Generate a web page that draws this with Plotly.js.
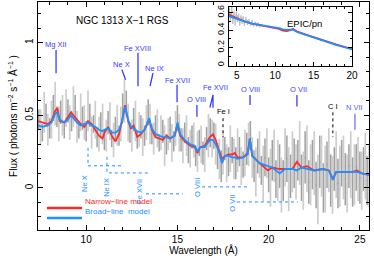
<!DOCTYPE html>
<html><head><meta charset="utf-8">
<script src="https://cdn.plot.ly/plotly-3.0.1.min.js"></script>
<style>html,body{margin:0;padding:0;background:#fff}#chart{width:374px;height:256px}</style>
</head><body><div id="chart"></div>
<script>
// ---- RGS data (dark grey, RGS-a) ----
const darkX = [7.4,7.6,7.8,8.0,8.2,8.4,8.6,8.8,9.0,9.2,9.4,9.6,9.8,10.0,10.2,10.4,10.6,10.8,11.0,11.2,11.4,11.6,11.8,12.0,12.2,12.4,12.6,12.8,13.0,13.2,13.4,13.6,13.8,14.0,14.2,14.4,14.6,14.8,15.0,15.2,15.4,15.6,15.8,16.0,16.2,16.4,16.6,16.8,17.0,17.2,17.4,17.6,17.8,18.0,18.2,18.4,18.6,18.8,19.0,19.2,19.4,19.6,19.8,20.0,20.2,20.4,20.6,20.8,21.0,21.2,21.4,21.6,21.8,22.0,22.2,22.4,22.6,22.8,23.0,23.2,23.4,23.6,23.8,24.0,24.2,24.4,24.6,24.8,25.0,25.2,25.4];
const darkY = [0.47,0.38,0.50,0.41,0.55,0.49,0.52,0.40,0.53,0.46,0.55,0.40,0.48,0.39,0.50,0.44,0.35,0.43,0.33,0.45,0.34,0.41,0.36,0.55,0.58,0.38,0.47,0.33,0.42,0.36,0.52,0.37,0.42,0.31,0.39,0.30,0.40,0.32,0.48,0.33,0.38,0.26,0.35,0.22,0.31,0.24,0.34,0.38,0.36,0.22,0.15,0.27,0.18,0.26,0.17,0.25,0.16,0.27,0.36,0.15,0.22,0.12,0.21,0.09,0.19,0.06,0.15,0.05,0.20,0.08,0.17,0.19,0.07,0.21,0.04,0.16,0.02,0.18,0.00,0.16,0.05,0.13,0.03,0.17,0.06,0.15,0.04,0.14,0.07,0.13,0.05];
const darkErr = [0.07,0.06,0.08,0.07,0.09,0.07,0.08,0.06,0.08,0.07,0.09,0.06,0.08,0.07,0.08,0.06,0.07,0.09,0.07,0.08,0.06,0.08,0.07,0.10,0.09,0.07,0.08,0.06,0.08,0.07,0.09,0.07,0.08,0.06,0.08,0.07,0.09,0.07,0.09,0.08,0.07,0.09,0.08,0.07,0.09,0.08,0.08,0.10,0.09,0.09,0.11,0.08,0.10,0.09,0.11,0.10,0.09,0.11,0.10,0.11,0.12,0.10,0.13,0.12,0.14,0.13,0.15,0.14,0.16,0.15,0.17,0.14,0.16,0.18,0.15,0.17,0.16,0.18,0.17,0.16,0.18,0.15,0.17,0.16,0.18,0.15,0.17,0.16,0.18,0.15,0.17];
// ---- RGS data (light grey, RGS-b) ----
const lightX = [7.5,7.7,7.9,8.1,8.3,8.5,8.7,8.9,9.1,9.3,9.5,9.7,9.9,10.1,10.3,10.5,10.7,10.9,11.1,11.3,11.5,11.7,11.9,12.1,12.3,12.5,12.7,12.9,13.1,13.3,13.5,13.7,13.9,14.1,14.3,14.5,14.7,14.9,15.1,15.3,15.5,15.7,15.9,16.1,16.3,16.5,16.7,16.9,17.1,17.3,17.5,17.7,17.9,18.1,18.3,18.5,18.7,18.9,19.1,19.3,19.5,19.7,19.9,20.1,20.3,20.5,20.7,20.9,21.1,21.3,21.5,21.7,21.9,22.1,22.3,22.5,22.7,22.9,23.1,23.3,23.5,23.7,23.9,24.1,24.3,24.5,24.7,24.9,25.1,25.3,25.5];
const lightY = [0.42,0.52,0.40,0.47,0.58,0.44,0.50,0.55,0.45,0.56,0.42,0.52,0.45,0.53,0.38,0.47,0.37,0.44,0.36,0.46,0.33,0.43,0.44,0.60,0.45,0.36,0.46,0.40,0.35,0.45,0.44,0.34,0.41,0.38,0.29,0.37,0.31,0.41,0.38,0.29,0.36,0.27,0.33,0.25,0.30,0.23,0.36,0.34,0.30,0.20,0.24,0.17,0.27,0.20,0.26,0.15,0.24,0.30,0.21,0.11,0.23,0.10,0.24,0.07,0.22,0.12,0.02,0.21,0.06,0.18,0.11,0.24,0.05,0.20,0.09,0.17,-0.01,0.15,0.06,0.19,0.02,0.16,0.08,0.14,0.03,0.16,0.09,0.13,0.05,0.15,0.08];
const lightErr = [0.12,0.14,0.11,0.13,0.15,0.12,0.14,0.13,0.12,0.14,0.11,0.13,0.12,0.14,0.11,0.13,0.12,0.14,0.11,0.13,0.12,0.14,0.12,0.15,0.13,0.11,0.14,0.12,0.13,0.12,0.14,0.11,0.13,0.12,0.14,0.11,0.13,0.12,0.13,0.12,0.14,0.13,0.12,0.14,0.13,0.12,0.15,0.13,0.14,0.14,0.15,0.13,0.16,0.14,0.15,0.13,0.16,0.15,0.14,0.17,0.16,0.19,0.17,0.20,0.18,0.21,0.19,0.20,0.22,0.21,0.19,0.22,0.20,0.23,0.21,0.22,0.24,0.21,0.23,0.22,0.20,0.23,0.21,0.22,0.20,0.23,0.21,0.22,0.20,0.23,0.21];
// ---- models ----
const modelX = [7.36,7.6,7.9,8.1,8.3,8.42,8.55,8.8,9.0,9.17,9.3,9.5,9.7,9.9,10.1,10.3,10.5,10.7,10.9,11.0,11.2,11.4,11.6,11.8,11.95,12.13,12.3,12.45,12.6,12.8,13.0,13.2,13.45,13.6,13.8,14.0,14.2,14.4,14.6,14.85,15.01,15.15,15.4,15.7,15.95,16.1,16.25,16.5,16.78,16.95,17.1,17.25,17.44,17.6,17.8,18.0,18.15,18.3,18.6,18.85,18.97,19.1,19.5,19.96,20.2,20.6,20.9,21.3,21.55,21.8,22.1,22.5,22.98,23.3,23.52,23.7,24.2,24.6,24.84,25.1,25.5];
const broadY = [0.43,0.42,0.43,0.45,0.51,0.52,0.47,0.45,0.47,0.50,0.48,0.45,0.43,0.44,0.45,0.43,0.42,0.40,0.39,0.40,0.41,0.38,0.38,0.40,0.45,0.56,0.47,0.42,0.41,0.39,0.38,0.40,0.48,0.41,0.37,0.36,0.35,0.35,0.34,0.36,0.45,0.37,0.33,0.30,0.29,0.25,0.28,0.28,0.33,0.33,0.30,0.26,0.17,0.22,0.22,0.21,0.21,0.20,0.21,0.23,0.34,0.22,0.17,0.15,0.14,0.10,0.13,0.13,0.12,0.14,0.13,0.12,0.13,0.12,0.055,0.11,0.11,0.11,0.11,0.10,0.09];
const narrowY = [0.46,0.45,0.44,0.46,0.53,0.55,0.46,0.45,0.49,0.52,0.50,0.47,0.44,0.42,0.46,0.44,0.40,0.36,0.34,0.38,0.42,0.36,0.32,0.37,0.45,0.57,0.46,0.41,0.43,0.35,0.37,0.40,0.47,0.40,0.35,0.34,0.33,0.36,0.34,0.36,0.44,0.36,0.32,0.29,0.28,0.24,0.28,0.29,0.35,0.37,0.33,0.27,0.20,0.22,0.23,0.23,0.24,0.21,0.21,0.24,0.34,0.22,0.17,0.12,0.14,0.13,0.13,0.13,0.18,0.14,0.15,0.12,0.13,0.12,0.06,0.11,0.11,0.11,0.12,0.10,0.09];
// ---- EPIC/pn inset ----
const pnX = [4.05,4.2,4.35,4.5,4.65,4.8,4.95,5.1,5.25,5.4,5.55,5.7,5.85,6.0,6.2,6.4,6.6,6.8,7.0,7.2,7.4,7.6,7.8,8.0];
const pnY = [0.60,0.55,0.62,0.52,0.58,0.50,0.57,0.53,0.55,0.49,0.54,0.51,0.53,0.48,0.52,0.49,0.50,0.47,0.49,0.46,0.48,0.46,0.47,0.45];
const pnErr = [0.06,0.05,0.05,0.05,0.04,0.05,0.04,0.04,0.04,0.04,0.03,0.04,0.03,0.03,0.03,0.03,0.03,0.02,0.03,0.02,0.02,0.02,0.02,0.02];
const pnModelX = [4.0,4.5,5,5.5,6,7,8,9,10,10.5,11,11.5,12,12.3,12.6,13,14,15,16,17,18,19,20];
const pnNarrow = [0.58,0.56,0.535,0.515,0.50,0.475,0.46,0.445,0.43,0.415,0.395,0.39,0.40,0.415,0.40,0.38,0.35,0.32,0.29,0.26,0.235,0.21,0.185];
const pnBroad = [0.56,0.545,0.525,0.51,0.50,0.475,0.46,0.45,0.435,0.425,0.41,0.405,0.405,0.41,0.39,0.375,0.345,0.315,0.285,0.255,0.23,0.205,0.18];
// ---- line identifications ----
const idText = ['Mg XII','Ne X','Fe XVIII','Ne IX','Fe XVII','O VIII','Fe XVII','O VIII','O VII','N VII'];
const idTextX = [8.35,11.96,12.84,13.72,15.03,16.07,17.06,19.03,21.61,24.73];
const idTextY = [0.986,0.848,0.959,0.821,0.738,0.607,0.69,0.676,0.676,0.552];
const idSegs = [[[8.35,0.95],[8.35,0.79]],[[11.96,0.814],[12.16,0.745]],[[12.84,0.93],[12.84,0.70]],[[13.66,0.79],[13.50,0.70]],[[14.98,0.71],[14.98,0.59]],[[16.07,0.57],[16.07,0.49]],[[16.78,0.552],[16.95,0.641],[16.95,0.552]],[[18.98,0.64],[18.98,0.57]],[[21.55,0.64],[21.55,0.56]],[[24.73,0.51],[24.73,0.40]]];
const neutText = ['Fe I','C I'];
const neutX = [17.55,23.55];
const neutTextY = [0.524,0.559];
const neutSegs = [[[17.5,0.48],[17.5,0.35]],[[23.52,0.52],[23.52,0.35]]];
const absText = ['Ne X','Ne IX','Fe XVII','O VIII','O VII'];
const absTextX = [9.94,11.14,12.95,16.13,18.04];
const absTextY = [0.028,0.007,-0.028,0.0,-0.103];
const absSegs = [[[10.10,0.276],[10.10,0.152],[12.07,0.152]],[[11.14,0.214],[11.14,0.103],[13.39,0.103]],[[13.28,-0.041],[15.3,-0.041]],[[16.35,0.007],[18.87,0.007]],[[18.26,-0.097],[21.6,-0.097]]];

const RED = '#ff2a2a', BLUE = '#1e90ff', IDC = '#3a3aff', FONT = 'Liberation Sans, Arial, Helvetica, sans-serif';

function greyTrace(x, y, e, col, xa, ya, th) {
  return {x:x, y:y, type:'scatter', mode:'markers', marker:{color:col, size:1.5},
    error_y:{type:'data', array:e, visible:true, color:col, thickness:th, width:0},
    xaxis:xa, yaxis:ya, showlegend:false, hoverinfo:'skip'};
}
const traces = [
  greyTrace(lightX, lightY, lightErr, 'rgb(205,205,205)', 'x', 'y', 1.7),
  greyTrace(darkX, darkY, darkErr, 'rgb(160,160,160)', 'x', 'y', 1.5),
  {x:modelX, y:narrowY, type:'scatter', mode:'lines', line:{color:RED, width:1.8}, showlegend:false},
  {x:modelX, y:broadY, type:'scatter', mode:'lines', line:{color:BLUE, width:1.8}, showlegend:false},
  greyTrace(pnX, pnY, pnErr, 'rgb(190,190,190)', 'x2', 'y2', 1.4),
  {x:pnModelX, y:pnNarrow, type:'scatter', mode:'lines', line:{color:RED, width:1.8}, xaxis:'x2', yaxis:'y2', showlegend:false},
  {x:pnModelX, y:pnBroad, type:'scatter', mode:'lines', line:{color:BLUE, width:1.8}, xaxis:'x2', yaxis:'y2', showlegend:false}
];

function pathOf(pts){ return pts.map((p,i)=>(i?'L':'M')+p[0]+','+p[1]).join(' '); }
const shapes = [], annotations = [];
idSegs.forEach((s,i)=>shapes.push({type:'path', xref:'x', yref:'y', path:pathOf(s), line:{color: i===9?'#7070ff':IDC, width:1.3}}));
neutSegs.forEach(s=>shapes.push({type:'path', xref:'x', yref:'y', path:pathOf(s), line:{color:'#000', width:1, dash:'dot'}}));
absSegs.forEach(s=>shapes.push({type:'path', xref:'x', yref:'y', path:pathOf(s), line:{color:BLUE, width:1, dash:'dot'}}));
idText.forEach((t,i)=>annotations.push({text:t, x:idTextX[i], y:idTextY[i], xref:'x', yref:'y', showarrow:false, font:{family:FONT, size:7.5, color: i===9?'#6060ff':IDC}}));
neutText.forEach((t,i)=>annotations.push({text:t, x:neutX[i], y:neutTextY[i], xref:'x', yref:'y', showarrow:false, font:{family:FONT, size:7.5, color:'#000'}}));
absText.forEach((t,i)=>annotations.push({text:t, x:absTextX[i], y:absTextY[i], xref:'x', yref:'y', showarrow:false, textangle:-90, font:{family:FONT, size:7.5, color:BLUE}}));
// title & inset label
annotations.push({text:'NGC 1313 X\u22121 RGS', x:12.0, y:1.15, xref:'x', yref:'y', showarrow:false, font:{family:FONT, size:10, color:'#000'}});
annotations.push({text:'EPIC/pn', x:0.77, y:0.84, xref:'x2 domain', yref:'y2 domain', showarrow:false, font:{family:FONT, size:9.5, color:'#000'}});
// legend
shapes.push({type:'line', xref:'paper', yref:'paper', x0:0.027, x1:0.133, y0:0.0965, y1:0.0965, line:{color:RED, width:2.5}});
shapes.push({type:'line', xref:'paper', yref:'paper', x0:0.027, x1:0.133, y0:0.0526, y1:0.0526, line:{color:BLUE, width:2.5}});
annotations.push({text:'Narrow\u2212line model', x:0.136, y:0.0965, xref:'paper', yref:'paper', xanchor:'left', showarrow:false, font:{family:FONT, size:8, color:RED}});
annotations.push({text:'Broad\u2212line  model', x:0.136, y:0.0526, xref:'paper', yref:'paper', xanchor:'left', showarrow:false, font:{family:FONT, size:8, color:BLUE}});

const axBase = {showline:true, linecolor:'#000', linewidth:1, mirror:'ticks', ticks:'inside', tickcolor:'#000', tickwidth:1, showgrid:false, zeroline:false, tickfont:{family:FONT, size:10, color:'#000'}};
const layout = {
  width:374, height:256, margin:{l:38, r:5, t:2, b:26}, paper_bgcolor:'#fff', plot_bgcolor:'#fff', showlegend:false,
  font:{family:FONT, color:'#000'},
  xaxis: Object.assign({}, axBase, {range:[7.36,25.5], dtick:5, tick0:0, ticklen:5, minor:{dtick:1, ticklen:3, ticks:'inside', tickcolor:'#000'},
    title:{text:'Wavelength (\u00c5)', font:{family:FONT, size:10}, standoff:2}}),
  yaxis: Object.assign({}, axBase, {range:[-0.29,1.28], dtick:0.5, tick0:0, ticklen:5, tickangle:-90, minor:{dtick:0.1, ticklen:3, ticks:'inside', tickcolor:'#000'},
    title:{text:'Flux ( photons m<sup>\u22122</sup> s<sup>\u22121</sup> \u00c5<sup>\u22121</sup> )', font:{family:FONT, size:10}, standoff:4}}),
  xaxis2: Object.assign({}, axBase, {domain:[0.577,0.949], anchor:'y2', range:[4,20], dtick:5, tick0:0, ticklen:4, minor:{dtick:1, ticklen:2, ticks:'inside', tickcolor:'#000'}}),
  yaxis2: Object.assign({}, axBase, {domain:[0.719,0.978], anchor:'x2', range:[-0.01,0.665], dtick:0.2, tick0:0, ticklen:4, tickangle:-90, tickfont:{family:FONT, size:9, color:'#000'}, minor:{dtick:0.1, ticklen:2, ticks:'inside', tickcolor:'#000'}}),
  shapes:shapes, annotations:annotations
};
Plotly.newPlot('chart', traces, layout, {staticPlot:true, displayModeBar:false});
</script></body></html>
